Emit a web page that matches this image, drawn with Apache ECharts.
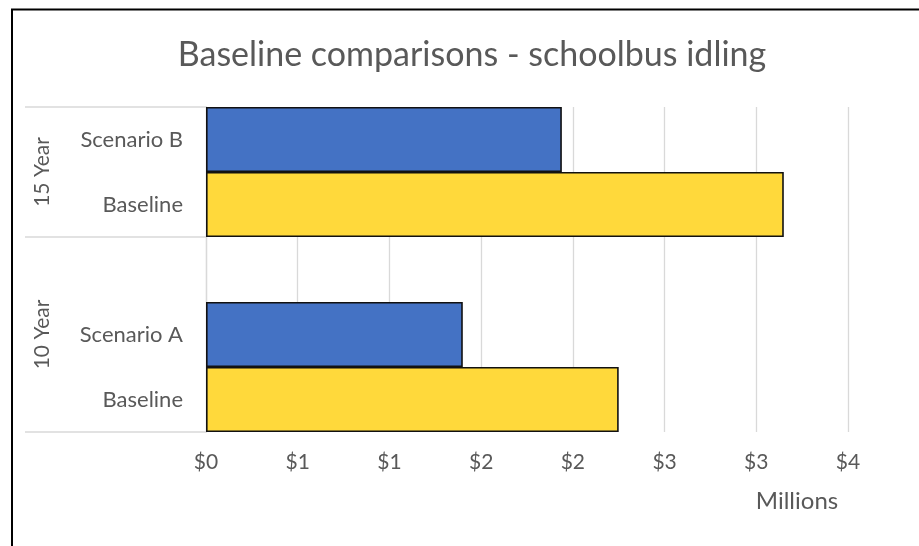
<!DOCTYPE html>
<html>
<head>
<meta charset="utf-8">
<script src="https://cdn.jsdelivr.net/npm/echarts@6/dist/echarts.min.js"></script>
<style>
  html, body { margin: 0; padding: 0; background: #fff; }
  #chart { width: 919px; height: 546px; }
</style>
</head>
<body>
<div id="chart"></div>
<script>
// Category rows, bottom to top (the empty row spaces the two groups apart)
const categories = ['Baseline', 'Scenario A', '', 'Baseline', 'Scenario B'];
// Group labels and where they sit on the row scale (0 = bottom, 5 = top)
const groupNames = ['10 Year', '15 Year'];
const groupCenters = [1.5, 4];
const groupBounds = [0, 3, 5];
// Costs in millions of dollars
const baselineValues = [2.25, null, null, 3.15, null];
const scenarioValues = [null, 1.40, null, null, 1.94];
// Axis ticks (millions)
const xMin = 0, xMax = 3.5, xStep = 0.5;

const FONT = 'Lato';
const TEXT = '#595959';
const GRID = '#d9d9d9';

const chart = echarts.init(document.getElementById('chart'));
chart.setOption({
  backgroundColor: '#fff',
  animation: false,
  textStyle: { fontFamily: FONT },
  title: {
    text: 'Baseline comparisons - schoolbus idling',
    left: 472,
    top: 38,
    textAlign: 'center',
    padding: 0,
    textStyle: { fontFamily: FONT, fontSize: 34, fontWeight: 'normal', color: TEXT }
  },
  graphic: [{
    type: 'rect',
    shape: { x: 12, y: 9.5, width: 1000, height: 1000 },
    style: { fill: null, stroke: '#000', lineWidth: 2 },
    silent: true
  }],
  grid: { left: 206, right: 71, top: 107, bottom: 114 },
  xAxis: {
    type: 'value',
    min: xMin, max: xMax, interval: xStep,
    axisLine: { show: false },
    axisTick: { show: false },
    splitLine: { lineStyle: { color: GRID, width: 1.3 } },
    axisLabel: {
      margin: 20,
      fontFamily: FONT, fontSize: 21, color: TEXT,
      formatter: v => '$' + Math.round(v)
    },
    name: 'Millions',
    nameLocation: 'end',
    nameGap: -51,
    nameTextStyle: {
      fontFamily: FONT, fontSize: 24, color: TEXT,
      align: 'center', verticalAlign: 'top', padding: [57, 0, 0, 0]
    }
  },
  yAxis: [{
    type: 'category',
    data: categories,
    axisLine: { show: true, lineStyle: { color: GRID, width: 1.3 } },
    axisTick: { show: false },
    axisLabel: { margin: 23, fontFamily: FONT, fontSize: 22, color: TEXT }
  }, {
    type: 'value',
    min: 0, max: 5,
    position: 'left',
    splitLine: { show: false },
    axisLine: { show: false },
    axisTick: {
      show: true, length: 181, customValues: groupBounds,
      lineStyle: { color: GRID, width: 1.5 }
    },
    axisLabel: {
      customValues: groupCenters,
      rotate: 90,
      margin: 153,
      fontFamily: FONT, fontSize: 21, color: TEXT,
      formatter: v => groupNames[groupCenters.indexOf(v)]
    }
  }],
  series: [{
    name: 'Baseline',
    type: 'bar',
    stack: 'cost',
    yAxisIndex: 0,
    barCategoryGap: '0%',
    data: baselineValues,
    itemStyle: { color: '#FFD93B', borderColor: '#111', borderWidth: 1.6 }
  }, {
    name: 'Scenario',
    type: 'bar',
    stack: 'cost',
    yAxisIndex: 0,
    barCategoryGap: '0%',
    data: scenarioValues,
    itemStyle: { color: '#4472C4', borderColor: '#111', borderWidth: 1.6 }
  }]
});
</script>
</body>
</html>
